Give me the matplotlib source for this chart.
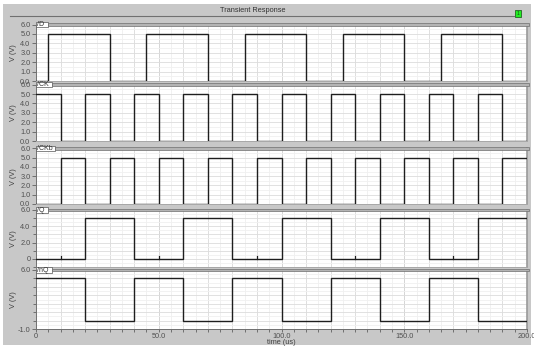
import matplotlib
matplotlib.use("Agg")
import matplotlib.pyplot as plt
from matplotlib.patches import Rectangle
from matplotlib.ticker import FixedLocator, MultipleLocator, FixedFormatter

# ---- waveform data (times in us, levels in V) ----
time_end = 200.0
signal_names = ["/D", "/CK", "/CKb", "/Q", "/nQ"]

d_start = 0.0
d_edges = [5, 30, 45, 70, 85, 110, 125, 150, 165, 190]

ck_start = 5.0
ck_edges = [10, 20, 30, 40, 50, 60, 70, 80, 90, 100,
            110, 120, 130, 140, 150, 160, 170, 180, 190]

ckb_start = 0.0
ckb_edges = [10, 20, 30, 40, 50, 60, 70, 80, 90, 100,
             110, 120, 130, 140, 150, 160, 170, 180, 190]

q_start = 0.0
q_edges = [20, 40, 60, 80, 100, 120, 140, 160, 180]

nq_start = 5.0
nq_edges = [20, 40, 60, 80, 100, 120, 140, 160, 180]

high_level = 5.0
low_level = 0.0

# tiny blips on /Q at the clock's falling edges
q_glitch_times = [10, 50, 90, 130, 170]
q_glitch_height = 0.3

y_limits = [(0, 6), (0, 6), (0, 6), (-1, 6), (-1, 6)]
y_tick_values = [[0, 1, 2, 3, 4, 5, 6]] * 3 + [[0, 2, 4, 6], [-1, 6]]
y_tick_labels = [["0.0", "1.0", "2.0", "3.0", "4.0", "5.0", "6.0"]] * 3 + \
                [["0", "2.0", "4.0", "6.0"], ["-1.0", "6.0"]]
x_tick_values = [0, 50, 100, 150, 200]
x_tick_labels = ["0", "50.0", "100.0", "150.0", "200.0"]

# ---- layout helpers (pixel space) ----
W, H = 534, 347
# (top px, bottom px) of each strip's data area
panel_px = [(24.6, 81.0), (84.7, 141.0), (148.3, 204.0), (210.0, 267.0), (270.0, 329.0)]
x_left, x_right = 36.0, 527.0

BG = "#c8c8c8"
FONT = ["Liberation Sans", "DejaVu Sans"]
plt.rcParams["font.family"] = FONT
TXT = "#505050"


def fx(px):
    return px / W


def fy(py):
    return 1.0 - py / H


def step_wave(start, edges):
    ts, vs = [0.0], [start]
    level = start
    for e in edges:
        level = high_level if level == low_level else low_level
        ts.append(e)
        vs.append(level)
    ts.append(time_end)
    vs.append(level)
    return ts, vs


waves = [step_wave(d_start, d_edges), step_wave(ck_start, ck_edges),
         step_wave(ckb_start, ckb_edges), step_wave(q_start, q_edges),
         step_wave(nq_start, nq_edges)]

fig = plt.figure(figsize=(W / 100, H / 100), dpi=100, facecolor="white")

# grey window body
fig.patches.append(Rectangle((fx(3), fy(345)), fx(528), 341 / H,
                             transform=fig.transFigure, facecolor=BG,
                             edgecolor="none", zorder=-10))

# title and rule under it
fig.text(fx(253), fy(10), "Transient Response", ha="center", va="center",
         fontsize=5.3, color="#333333")
fig.add_artist(plt.Line2D([fx(10), fx(514)], [fy(16), fy(16)],
                          transform=fig.transFigure, color="#707070", lw=0.8))
fig.patches.append(Rectangle((fx(515), fy(16.5)), 5.5 / W, 6.5 / H,
                             transform=fig.transFigure, facecolor="#22ee22",
                             edgecolor="#226622", lw=0.6))
fig.text(fx(517.8), fy(13.2), "1", ha="center", va="center", fontsize=3.5,
         color="#114411")

for i, (name, (ts, vs)) in enumerate(zip(signal_names, waves)):
    top, bot = panel_px[i]
    ax = fig.add_axes([fx(x_left), fy(bot), fx(x_right) - fx(x_left), (bot - top) / H])
    ax.set_facecolor("white")
    ax.set_xlim(0, time_end)
    ax.set_ylim(*y_limits[i])

    # grid
    ax.xaxis.set_major_locator(FixedLocator(x_tick_values))
    ax.xaxis.set_minor_locator(MultipleLocator(5))
    for xv in range(0, 201, 5):
        c = "#d9d9d9" if xv % 10 == 0 else "#efefef"
        if xv % 50 == 0:
            c = "#cfcfcf"
        ax.axvline(xv, color=c, lw=0.6, zorder=0)
    lo, hi = y_limits[i]
    yv = lo
    while yv <= hi + 1e-9:
        c = "#dcdcdc" if abs(yv - round(yv)) < 1e-9 else "#f0f0f0"
        ax.axhline(yv, color=c, lw=0.6, zorder=0)
        yv += 0.5

    ax.plot(ts, vs, drawstyle="steps-post", color="#1e1e1e", lw=1.0, zorder=3,
            solid_joinstyle="miter")
    if name == "/Q":
        for g in q_glitch_times:
            ax.plot([g, g], [low_level, low_level + q_glitch_height],
                    color="#1e1e1e", lw=0.9, zorder=3)

    ax.yaxis.set_major_locator(FixedLocator(y_tick_values[i]))
    ax.yaxis.set_major_formatter(FixedFormatter(y_tick_labels[i]))
    if i >= 3:
        ax.yaxis.set_minor_locator(MultipleLocator(1))
    ax.tick_params(axis="y", which="major", direction="out", length=3, width=0.6,
                   colors="#606060", labelsize=5.3, pad=1, labelcolor=TXT)
    ax.tick_params(axis="y", which="minor", direction="out", length=2, width=0.6,
                   colors="#606060")

    if i == len(signal_names) - 1:
        ax.set_xticklabels(x_tick_labels)
        ax.tick_params(axis="x", which="major", direction="out", length=2.5, width=0.6,
                       colors="#606060", labelsize=5.3, pad=0.5, labelcolor=TXT)
        ax.tick_params(axis="x", which="minor", direction="out", length=2, width=0.6,
                       colors="#606060")
        ax.set_xlabel("time (us)", fontsize=5.3, color="#404040", labelpad=-1.0)
    else:
        ax.tick_params(axis="x", which="both", length=0, labelbottom=False)

    for side in ["left", "bottom"]:
        ax.spines[side].set_color("#707070")
        ax.spines[side].set_linewidth(0.7)
    ax.spines["top"].set_visible(False)
    ax.spines["right"].set_color("#9a9a9a")
    ax.spines["right"].set_linewidth(1.2)
    if i < len(signal_names) - 1:
        ax.spines["bottom"].set_color("#a8a8a8")

    ax.set_ylabel("V (V)", fontsize=5.3, color="#404040", labelpad=1)
    ax.yaxis.set_label_coords(fx(17 - x_left) / (fx(x_right) - fx(x_left)), 0.5)

    # strip header bar with signal tag
    box_w = 6.0 + 3.2 * len(name)
    fig.patches.append(Rectangle((fx(x_left + box_w), fy(top + 1.3)),
                                 fx(529 - x_left - box_w), 2.8 / H,
                                 transform=fig.transFigure, facecolor="#b4b4b4",
                                 edgecolor="#6e6e6e", lw=0.5, zorder=5))
    fig.patches.append(Rectangle((fx(x_left), fy(top + 2.7)), fx(box_w), 5.4 / H,
                                 transform=fig.transFigure, facecolor="white",
                                 edgecolor="#555555", lw=0.5, zorder=6))
    fig.text(fx(x_left + 1.3), fy(top + 0.1), name, ha="left", va="center",
             fontsize=5.0, color="#333333", zorder=7)

fig.savefig("out.png", dpi=100, facecolor="white")
